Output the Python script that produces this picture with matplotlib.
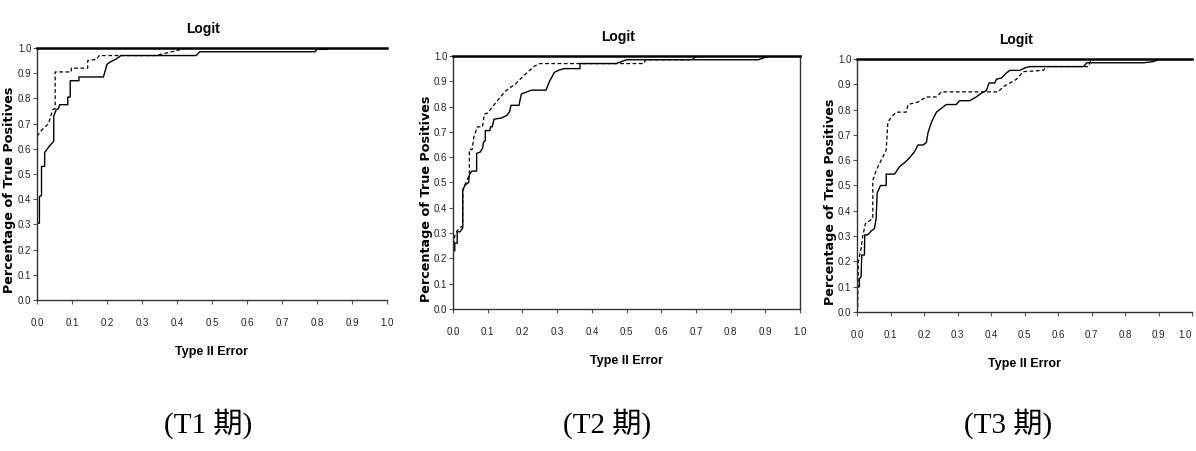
import matplotlib
matplotlib.use("Agg")
import matplotlib.pyplot as plt

# ROC curves (Type II error vs share of true positives)
t1_solid_x = [0, 0.007, 0.007, 0.013, 0.013, 0.022, 0.022, 0.035, 0.048, 0.048, 0.055, 0.062, 0.065,
              0.088, 0.088, 0.095, 0.095, 0.12, 0.12, 0.19, 0.20, 0.21, 0.225, 0.24, 0.455, 0.465,
              0.795, 0.80, 0.83, 0.83, 1.0]
t1_solid_y = [0.305, 0.305, 0.41, 0.415, 0.53, 0.53, 0.585, 0.61, 0.63, 0.73, 0.755, 0.76, 0.775,
              0.775, 0.805, 0.805, 0.87, 0.87, 0.885, 0.885, 0.935, 0.945, 0.955, 0.97, 0.97, 0.985,
              0.985, 0.995, 0.995, 1.0, 1.0]
t1_dash_x = [0, 0.014, 0.033, 0.045, 0.052, 0.052, 0.098, 0.098, 0.145, 0.145, 0.17, 0.178,
             0.34, 0.37, 0.40, 0.43, 1.0]
t1_dash_y = [0.65, 0.675, 0.70, 0.755, 0.76, 0.905, 0.905, 0.92, 0.92, 0.95, 0.955, 0.97,
             0.97, 0.98, 0.99, 1.0, 1.0]

t2_solid_x = [0, 0.005, 0.005, 0.012, 0.012, 0.02, 0.028, 0.028, 0.035, 0.045, 0.047, 0.054, 0.068,
              0.068, 0.078, 0.085, 0.088, 0.093, 0.093, 0.106, 0.108, 0.113, 0.118, 0.14, 0.155,
              0.163, 0.167, 0.19, 0.197, 0.207, 0.226, 0.268, 0.278, 0.292, 0.307, 0.321, 0.366,
              0.366, 0.47, 0.50, 0.88, 0.90, 0.92, 1.0]
t2_solid_y = [0.23, 0.23, 0.26, 0.26, 0.305, 0.305, 0.32, 0.47, 0.49, 0.50, 0.53, 0.545, 0.545,
              0.615, 0.62, 0.635, 0.66, 0.665, 0.705, 0.705, 0.72, 0.72, 0.75, 0.755, 0.765,
              0.78, 0.805, 0.805, 0.85, 0.855, 0.865, 0.865, 0.90, 0.935, 0.945, 0.95, 0.95,
              0.97, 0.97, 0.985, 0.985, 0.995, 1.0, 1.0]
t2_dash_x = [0, 0.005, 0.012, 0.028, 0.028, 0.04, 0.047, 0.047, 0.055, 0.06, 0.07, 0.085, 0.09,
             0.10, 0.12, 0.15, 0.18, 0.21, 0.235, 0.25, 0.55, 0.555, 0.68, 0.70, 0.74, 1.0]
t2_dash_y = [0.23, 0.29, 0.31, 0.33, 0.47, 0.51, 0.53, 0.63, 0.63, 0.68, 0.72, 0.72, 0.77,
             0.775, 0.81, 0.86, 0.89, 0.93, 0.96, 0.97, 0.97, 0.985, 0.985, 0.995, 1.0, 1.0]

t3_solid_x = [0, 0.007, 0.007, 0.012, 0.014, 0.022, 0.023, 0.032, 0.042, 0.052, 0.057, 0.06, 0.07,
              0.087, 0.087, 0.112, 0.127, 0.142, 0.157, 0.172, 0.182, 0.197, 0.207, 0.212, 0.222,
              0.237, 0.252, 0.266, 0.296, 0.306, 0.336, 0.356, 0.371, 0.386, 0.394, 0.411, 0.416,
              0.431, 0.446, 0.456, 0.486, 0.501, 0.516, 0.676, 0.686, 0.855, 0.885, 0.905, 1.0]
t3_solid_y = [0.10, 0.10, 0.13, 0.14, 0.225, 0.225, 0.305, 0.305, 0.32, 0.33, 0.37, 0.47, 0.50,
              0.50, 0.545, 0.545, 0.575, 0.59, 0.61, 0.635, 0.66, 0.66, 0.67, 0.71, 0.75,
              0.79, 0.805, 0.82, 0.82, 0.835, 0.835, 0.85, 0.865, 0.875, 0.905, 0.905, 0.92,
              0.925, 0.945, 0.955, 0.955, 0.965, 0.97, 0.97, 0.985, 0.985, 0.99, 1.0, 1.0]
t3_dash_x = [0.002, 0.004, 0.012, 0.017, 0.025, 0.037, 0.047, 0.047, 0.057, 0.072, 0.087, 0.092,
             0.102, 0.117, 0.147, 0.152, 0.182, 0.207, 0.237, 0.252, 0.386, 0.421, 0.436, 0.476,
             0.496, 0.556, 0.566, 0.69, 0.70, 1.0]
t3_dash_y = [0.02, 0.20, 0.25, 0.30, 0.35, 0.36, 0.37, 0.52, 0.56, 0.60, 0.64, 0.75,
             0.77, 0.79, 0.79, 0.82, 0.83, 0.85, 0.85, 0.87, 0.87, 0.87, 0.89, 0.92,
             0.95, 0.955, 0.97, 0.97, 1.0, 1.0]

ticks = [i / 10 for i in range(11)]
tick_labels = [f"{t:.1f}" for t in ticks]
captions = ["(T1 期)", "(T2 期)", "(T3 期)"]

sans = "Liberation Sans"

fig = plt.figure(figsize=(11.96, 4.51), dpi=100)

# axes boxes in figure fraction: left, bottom, width, height
boxes = [
    [0.0309, 0.3348, 0.2926, 0.5588],
    [0.3788, 0.3149, 0.2901, 0.5610],
    [0.7166, 0.3082, 0.2801, 0.5610],
]
series = [
    (t1_solid_x, t1_solid_y, t1_dash_x, t1_dash_y),
    (t2_solid_x, t2_solid_y, t2_dash_x, t2_dash_y),
    (t3_solid_x, t3_solid_y, t3_dash_x, t3_dash_y),
]
caption_x = [208, 607, 1008]

for i, (box, (sx, sy, dx, dy)) in enumerate(zip(boxes, series)):
    ax = fig.add_axes(box)
    ax.plot(dx, dy, color="black", lw=0.9, dashes=(3, 2))
    ax.plot(sx, sy, color="black", lw=1.0)
    ax.set_xlim(0, 1)
    ax.set_ylim(0, 1)

    for side in ["left", "bottom"]:
        ax.spines[side].set_color("#333333")
        ax.spines[side].set_linewidth(1.0)
    ax.spines["top"].set_color("black")
    ax.spines["top"].set_linewidth(1.8)
    if i == 1:
        ax.spines["right"].set_color("#333333")
        ax.spines["right"].set_linewidth(1.0)
    else:
        ax.spines["right"].set_visible(False)

    ax.set_xticks(ticks)
    ax.set_yticks(ticks)
    ax.set_xticklabels(tick_labels, family=sans, fontsize=7, color="#222222")
    ax.set_yticklabels(tick_labels, family=sans, fontsize=7, color="#222222")
    ax.tick_params(axis="x", direction="out", length=3, width=0.8, color="#555555", pad=10)
    ax.tick_params(axis="y", direction="out", length=3, width=0.8, color="#555555", pad=1)
    if i == 2:
        ax.get_xticklabels()[-1].set_ha("right")

    w_px = box[2] * 1196
    ax.text(0.475, 1.075, "Logit", transform=ax.transAxes, ha="center", va="center",
            family=sans, fontweight="bold", fontsize=10)
    ax.text(0.5, -0.205, "Type II Error", transform=ax.transAxes, ha="center", va="center",
            family=sans, fontweight="bold", fontsize=9)
    ax.text(-27 / w_px, 0.436, "Percentage of True Positives", transform=ax.transAxes,
            ha="center", va="center", rotation=90, family="DejaVu Sans",
            fontweight="bold", fontsize=9.2)

    fig.text(caption_x[i] / 1196, 1 - 424 / 451, captions[i], ha="center", va="center",
             family=["Liberation Serif", "Noto Sans CJK TC"], fontsize=21)

fig.savefig("out.png", dpi=100)
